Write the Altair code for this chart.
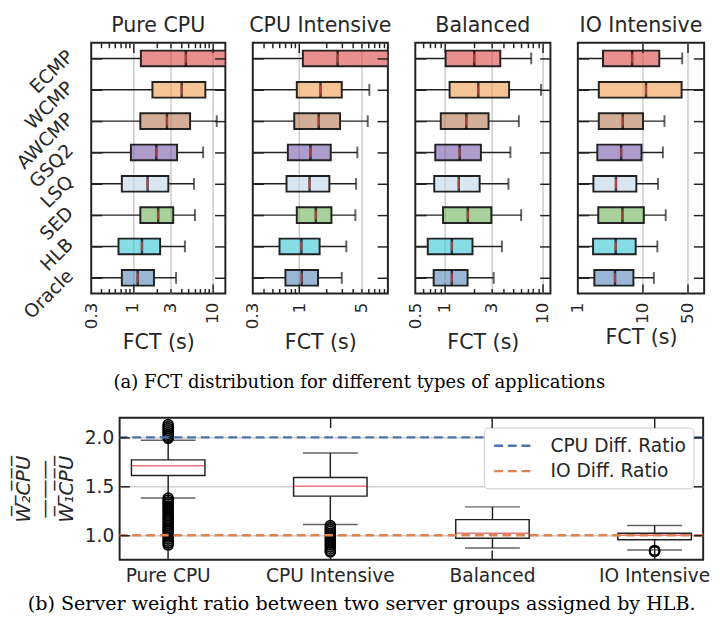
import altair as alt
import pandas as pd

FONT = "DejaVu Sans"
SERIF = "DejaVu Serif"
INK = "#262626"
FRAME = "#222222"

# ---------------- data ----------------
algs = ["ECMP", "WCMP", "AWCMP", "GSQ2", "LSQ", "SED", "HLB", "Oracle"]
apps = ["Pure CPU", "CPU Intensive", "Balanced", "IO Intensive"]
box_colors = ["#d94644", "#f29d4e", "#b77653", "#765aaa",
              "#bcd5e6", "#70b25a", "#37c6d5", "#5587b7"]

# FCT box statistics (seconds), per application, in algs order
fct_low = {
    "Pure CPU":      [0.1, 0.1, 0.1, 0.1, 0.1, 0.1, 0.1, 0.1],
    "CPU Intensive": [0.1, 0.1, 0.1, 0.1, 0.1, 0.1, 0.1, 0.1],
    "Balanced":      [0.2, 0.2, 0.2, 0.2, 0.2, 0.2, 0.2, 0.2],
    "IO Intensive":  [0.5, 0.5, 0.5, 0.5, 0.5, 0.5, 0.5, 0.5],
}
fct_q1 = {
    "Pure CPU":      [1.26, 1.76, 1.24, 0.945, 0.727, 1.24, 0.66, 0.727],
    "CPU Intensive": [1.10, 0.94, 0.88, 0.745, 0.72, 0.94, 0.60, 0.70],
    "Balanced":      [1.02, 1.12, 0.91, 0.80, 0.78, 0.96, 0.67, 0.77],
    "IO Intensive":  [2.45, 2.11, 2.11, 2.00, 1.74, 2.07, 1.72, 1.80],
}
fct_med = {
    "Pure CPU":      [4.63, 4.10, 2.68, 1.97, 1.53, 2.08, 1.30, 1.15],
    "CPU Intensive": [2.71, 1.74, 1.66, 1.34, 1.31, 1.54, 1.06, 1.07],
    "Balanced":      [2.00, 2.20, 1.66, 1.42, 1.39, 1.72, 1.18, 1.18],
    "IO Intensive":  [6.92, 11.35, 4.95, 4.68, 3.89, 4.90, 3.85, 3.76],
}
fct_q3 = {
    "Pure CPU":      [20.0, 8.13, 5.23, 3.59, 2.79, 3.21, 2.20, 1.84],
    "CPU Intensive": [15.0, 3.02, 2.89, 2.27, 2.19, 2.31, 1.70, 1.63],
    "Balanced":      [3.69, 4.54, 2.80, 2.34, 2.27, 2.99, 1.92, 1.71],
    "IO Intensive":  [18.2, 40.3, 10.2, 9.66, 8.04, 10.5, 7.85, 7.24],
}
fct_high = {
    "Pure CPU":      [40.0, 25.0, 11.3, 7.62, 5.85, 6.02, 4.50, 3.49],
    "CPU Intensive": [30.0, 6.18, 5.93, 4.53, 4.38, 4.30, 3.40, 3.02],
    "Balanced":      [7.64, 9.62, 5.71, 4.68, 4.47, 6.03, 3.83, 3.16],
    "IO Intensive":  [41.2, 96.6, 21.9, 20.7, 17.4, 22.9, 17.0, 15.0],
}

x_domain = {
    "Pure CPU": [0.3, 14.5], "CPU Intensive": [0.3, 10.0],
    "Balanced": [0.5, 12.0], "IO Intensive": [1.0, 90.0],
}
panel_width = {"Pure CPU": 137, "CPU Intensive": 138, "Balanced": 138,
               "IO Intensive": 129}
x_labels = {
    "Pure CPU": [0.3, 1, 3, 10], "CPU Intensive": [0.3, 1, 5],
    "Balanced": [0.5, 1, 3, 10], "IO Intensive": [1, 10, 50],
}
x_grid = {
    "Pure CPU": [1, 3, 10], "CPU Intensive": [1, 5],
    "Balanced": [1, 3, 10], "IO Intensive": [10, 50],
}
x_major = {
    "Pure CPU": [1, 10], "CPU Intensive": [1],
    "Balanced": [1, 10], "IO Intensive": [10, 50],
}
x_minor = {
    "Pure CPU": [0.4, 0.5, 0.6, 0.7, 0.8, 0.9, 2, 3, 4, 5, 6, 7, 8, 9],
    "CPU Intensive": [0.4, 0.5, 0.6, 0.7, 0.8, 0.9, 2, 3, 4, 5, 6, 7, 8, 9],
    "Balanced": [0.6, 0.7, 0.8, 0.9, 2, 3, 4, 5, 6, 7, 8, 9],
    "IO Intensive": [],
}

# weight ratio (W2CPU / W1CPU) box statistics per application
ratio_lo = [1.38, 1.11, 0.87, 0.85]
ratio_q1 = [1.61, 1.40, 0.97, 0.955]
ratio_med = [1.71, 1.50, 1.02, 1.00]
ratio_q3 = [1.77, 1.59, 1.16, 1.02]
ratio_hi = [1.97, 1.84, 1.29, 1.10]
outlier_app = (["Pure CPU"] * 8 + ["Pure CPU"] * 25 + ["CPU Intensive"] * 15
               + ["IO Intensive"] * 3)
outlier_val = ([1.99, 2.01, 2.03, 2.05, 2.07, 2.09, 2.11, 2.13]
               + [0.90, 0.92, 0.94, 0.96, 0.98, 1.00, 1.02, 1.04, 1.06, 1.08,
                  1.10, 1.12, 1.14, 1.16, 1.18, 1.20, 1.22, 1.24, 1.26, 1.28,
                  1.30, 1.32, 1.34, 1.36, 1.38]
               + [0.83, 0.84, 0.86, 0.88, 0.90, 0.92, 0.94, 0.96, 0.98, 1.00,
                  1.02, 1.04, 1.06, 1.08, 1.10]
               + [0.835, 0.84, 0.845])
ref_names = ["CPU Diff. Ratio", "IO Diff. Ratio"]
ref_values = [2.0, 1.0]
ref_colors = ["#4c72b0", "#dd8452"]


# ---------------- top panels ----------------
def fct_panel(app, first):
    d = pd.DataFrame({"alg": algs, "low": fct_low[app], "q1": fct_q1[app],
                      "med": fct_med[app], "q3": fct_q3[app],
                      "high": fct_high[app]})
    xs = alt.Scale(type="log", domain=x_domain[app], nice=False)
    ys = alt.Scale(domain=algs, paddingInner=0, paddingOuter=0)
    base = alt.Chart(d)
    yenc = alt.Y("alg:N", scale=ys, axis=None, title=None)

    def xq(f):
        return alt.X(f + ":Q", scale=xs, axis=None, title=None)

    def axis_layer(xaxis=None, yaxis=None, xtitle=None):
        return base.mark_point(opacity=0).encode(
            x=alt.X("med:Q", scale=xs, axis=xaxis, title=xtitle),
            y=alt.Y("alg:N", scale=ys, axis=yaxis, title=None),
        )

    layers = []
    layers.append(axis_layer(xaxis=alt.Axis(
        orient="bottom", values=x_grid[app], grid=True, gridColor="#cccccc",
        gridWidth=1.5, ticks=False, labels=False, domain=False, zindex=0)))
    layers.append(base.mark_rule(clip=True, color=FRAME, strokeWidth=1.5).encode(
        x=xq("low"), x2="q1", y=yenc))
    layers.append(base.mark_rule(clip=True, color=FRAME, strokeWidth=1.5).encode(
        x=xq("q3"), x2="high", y=yenc))
    layers.append(base.mark_tick(clip=True, color=FRAME, size=12, thickness=2).encode(
        x=xq("high"), y=yenc))
    layers.append(base.mark_bar(clip=True, height=16, stroke=FRAME, strokeWidth=2,
                                fillOpacity=0.6).encode(
        x=xq("q1"), x2="q3", y=yenc,
        color=alt.Color("alg:N", scale=alt.Scale(domain=algs, range=box_colors),
                        legend=None)))
    layers.append(base.mark_tick(clip=True, color="black", size=16, thickness=2.5).encode(
        x=xq("med"), y=yenc))
    layers.append(base.mark_tick(clip=True, color="#e0443e", size=9, thickness=2).encode(
        x=xq("med"), y=yenc))
    # labels + title
    layers.append(axis_layer(xaxis=alt.Axis(
        orient="bottom", values=x_labels[app], format="~g", labelAngle=270,
        labelAlign="right", labelBaseline="middle",
        labelFontSize=17, labelFont=FONT, labelColor=INK, labelPadding=9,
        labelOverlap=False, labelFlush=False, labelBound=False,
        ticks=False, domain=False, grid=False,
        titleFont=FONT, titleFontSize=21, titleFontWeight="normal",
        titleColor=INK, titlePadding=3), xtitle="FCT (s)"))
    # inward ticks
    for orient in ["bottom", "top"]:
        layers.append(axis_layer(xaxis=alt.Axis(
            orient=orient, values=x_major[app], offset=-10, tickSize=10,
            tickWidth=1.5, tickColor=FRAME, labels=False, domain=False,
            grid=False, zindex=1)))
        if x_minor[app]:
            layers.append(axis_layer(xaxis=alt.Axis(
                orient=orient, values=x_minor[app], offset=-5, tickSize=5,
                tickWidth=1.5, tickColor=FRAME, labels=False, domain=False,
                grid=False, zindex=1)))
    layers.append(axis_layer(yaxis=alt.Axis(
        orient="left", offset=-11, tickSize=11, tickWidth=1.5, tickColor=FRAME,
        labels=first, labelAngle=315, labelAlign="right", labelBaseline="middle",
        labelFontSize=19, labelFont=FONT, labelColor=INK, labelPadding=22,
        labelOffset=-5, domain=False, grid=False, zindex=1)))
    layers.append(axis_layer(yaxis=alt.Axis(
        orient="right", offset=-11, tickSize=11, tickWidth=1.5, tickColor=FRAME,
        labels=False, domain=False, grid=False, zindex=1)))

    return alt.layer(*layers).resolve_axis(x="independent", y="independent").properties(
        width=panel_width[app], height=256,
        title=alt.TitleParams(app, font=FONT, fontSize=21, fontWeight="normal",
                              color=INK, offset=6))


top = alt.hconcat(*[fct_panel(a, i == 0) for i, a in enumerate(apps)],
                  spacing=28, bounds="flush").properties(
    title=alt.TitleParams(
        "(a) FCT distribution for different types of applications",
        orient="bottom", anchor="middle", frame="bounds", font=SERIF,
        fontSize=18.4, fontWeight="normal", color="black", offset=21))

# ---------------- bottom panel ----------------
bd = pd.DataFrame({"app": apps, "lo": ratio_lo, "q1": ratio_q1,
                   "med": ratio_med, "q3": ratio_q3, "hi": ratio_hi})
od = pd.DataFrame({"app": outlier_app, "v": outlier_val})
rd = pd.DataFrame({"name": ref_names, "v": ref_values})

bx = alt.Scale(domain=apps, paddingInner=0.547, paddingOuter=0.073)
by = alt.Scale(domain=[0.75, 2.2], nice=False, zero=False)
bb = alt.Chart(bd)
XB = alt.X("app:N", scale=bx, axis=None, title=None, sort=apps)


def yq(f):
    return alt.Y(f + ":Q", scale=by, axis=None, title=None)


def b_axis(xaxis=None, yaxis=None, ytitle=None):
    return bb.mark_point(opacity=0).encode(
        x=alt.X("app:N", scale=bx, axis=xaxis, title=None, sort=apps),
        y=alt.Y("med:Q", scale=by, axis=yaxis, title=ytitle))


frac_title = ["W\u0305\u2082\u0305C\u0305P\u0305U\u0305", "\u2014\u2014\u2014",
              "W\u0305\u2081\u0305C\u0305P\u0305U\u0305"]

blayers = [
    b_axis(yaxis=alt.Axis(
        orient="left", values=[1.0, 1.5, 2.0], format=".1f", ticks=False,
        labelPadding=6, labelFontSize=19, labelFont=FONT, labelColor=INK,
        domain=False, grid=True, gridColor="#d0d0d0", gridWidth=1.5,
        titleFont=FONT, titleFontSize=20, titleFontStyle="italic",
        titleFontWeight="normal", titleColor=INK, titlePadding=8, zindex=0),
        ytitle=frac_title),
    bb.mark_rule(color=FRAME, strokeWidth=1.5).encode(x=XB, y=yq("lo"), y2="q1"),
    bb.mark_rule(color=FRAME, strokeWidth=1.5).encode(x=XB, y=yq("q3"), y2="hi"),
    bb.mark_tick(color=FRAME, size=56, thickness=1.5).encode(x=XB, y=yq("lo")),
    bb.mark_tick(color=FRAME, size=56, thickness=1.5).encode(x=XB, y=yq("hi")),
    bb.mark_bar(fill="white", stroke=FRAME, strokeWidth=1.5).encode(
        x=XB, y=yq("q1"), y2="q3"),
    bb.mark_tick(color="#d9413f", size=75, thickness=1.5).encode(x=XB, y=yq("med")),
    alt.Chart(od).mark_point(shape="circle", filled=False, size=100, opacity=1,
                             color="#000000", strokeWidth=1.8).encode(
        x=XB, y=yq("v")),
    alt.Chart(rd).mark_rule(strokeDash=[9, 5], strokeWidth=2.5).encode(
        y=yq("v"),
        stroke=alt.Stroke("name:N", title=None,
                          scale=alt.Scale(domain=ref_names, range=ref_colors),
                          legend=alt.Legend(
                              orient="top-right", offset=10,
                              symbolType="M-2,0H2", symbolFillColor="transparent",
                              symbolStrokeWidth=2.5, symbolDash=[9, 5],
                              symbolSize=400, symbolOffset=12,
                              labelFontSize=19, labelFont=FONT,
                              labelColor=INK, strokeColor="#cccccc",
                              fillColor="white", padding=7, cornerRadius=4,
                              rowPadding=4, labelOffset=26))),
    b_axis(xaxis=alt.Axis(
        orient="bottom", ticks=False, labelPadding=7, labelFontSize=19,
        labelFont=FONT, labelColor=INK, labelAngle=0, domain=False, grid=False)),
    b_axis(xaxis=alt.Axis(orient="bottom", offset=-10, tickSize=10, tickWidth=1.5,
                          tickColor=FRAME, labels=False, domain=False, grid=False,
                          zindex=1)),
    b_axis(xaxis=alt.Axis(orient="top", offset=-10, tickSize=10, tickWidth=1.5,
                          tickColor=FRAME, labels=False, domain=False, grid=False,
                          zindex=1)),
    b_axis(yaxis=alt.Axis(orient="left", values=[1.0, 1.5, 2.0], offset=-10,
                          tickSize=10, tickWidth=1.5, tickColor=FRAME,
                          labels=False, domain=False, grid=False, zindex=1)),
    b_axis(yaxis=alt.Axis(orient="right", values=[1.0, 1.5, 2.0], offset=-10,
                          tickSize=10, tickWidth=1.5, tickColor=FRAME,
                          labels=False, domain=False, grid=False, zindex=1)),
]

bottom_chart = alt.layer(*blayers).resolve_axis(
    x="independent", y="independent").properties(width=596, height=145)

spacer = alt.Chart(pd.DataFrame({"s": [0]})).mark_point(opacity=0).encode(
    x=alt.X("s:Q", axis=None), y=alt.Y("s:Q", axis=None)).properties(
    width=1, height=145, view=alt.ViewBackground(stroke="transparent"))

bottom = alt.hconcat(spacer, bottom_chart, spacing=28, bounds="flush").properties(
    title=alt.TitleParams(
        "(b) Server weight ratio between two server groups assigned by HLB.",
        orient="bottom", anchor="middle", frame="bounds", font=SERIF,
        fontSize=19.5, fontWeight="normal", color="black", offset=9)
).resolve_scale(stroke="independent").resolve_legend(stroke="independent")

chart = alt.vconcat(top, bottom, spacing=23).properties(
    padding={"left": 4, "top": 0, "right": 0, "bottom": 0}
).resolve_scale(stroke="independent").resolve_legend(
    stroke="independent").configure_view(stroke=FRAME, strokeWidth=2)

chart.save("out.html", embed_options={"renderer": "svg", "actions": False})
